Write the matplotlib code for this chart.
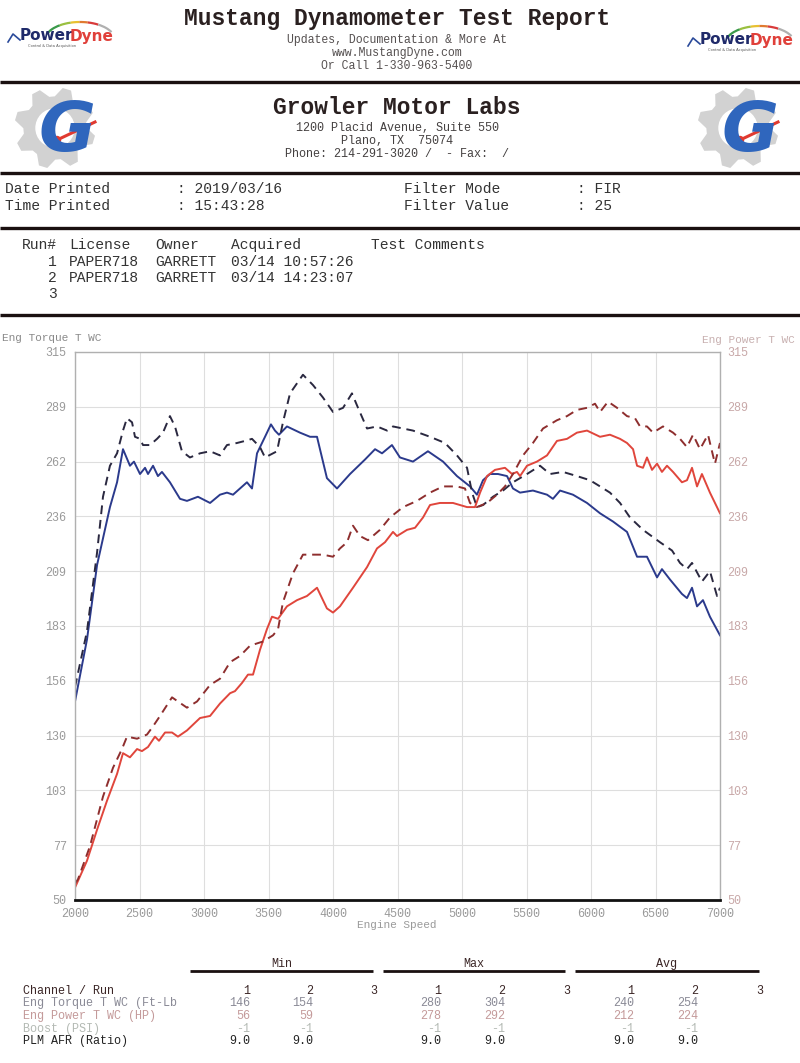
import matplotlib
matplotlib.use("Agg")
import matplotlib.pyplot as plt
import numpy as np
from matplotlib.patches import Polygon, Circle, Arc

MONO = "Liberation Mono"

# ---- dyno data ----
torque1_rpm = [2000, 2093, 2171, 2271, 2326, 2372, 2426, 2457, 2504, 2543, 2566, 2605, 2643, 2674,
               2736, 2814, 2868, 2953, 3047, 3124, 3178, 3225, 3333, 3372, 3411, 3473, 3519, 3550,
               3581, 3643, 3744, 3822, 3876, 3899, 3953, 4031, 4132, 4248, 4326, 4380, 4457, 4519,
               4620, 4736, 4853, 4961, 5062, 5116, 5163, 5217, 5279, 5349, 5395, 5450, 5550, 5659,
               5705, 5760, 5860, 5969, 6070, 6171, 6279, 6357, 6434, 6512, 6550, 6612, 6705, 6744,
               6783, 6822, 6868, 6922, 7000]
torque1 = [146, 176, 212, 240, 252, 268, 260, 262, 256, 259, 256, 260, 255, 257,
           252, 244, 243, 245, 242, 246, 247, 246, 252, 249, 266, 274, 280, 277,
           275, 279, 276, 274, 274, 268, 254, 249, 256, 263, 268, 266, 270, 264,
           262, 267, 262, 255, 250, 246, 253, 256, 256, 255, 249, 247, 248, 246,
           244, 248, 246, 242, 237, 233, 228, 216, 216, 206, 210, 205, 198, 196,
           201, 192, 195, 187, 178]

torque2_rpm = [2000, 2093, 2171, 2217, 2271, 2326, 2372, 2403, 2442, 2465, 2504, 2527, 2581, 2636,
               2682, 2736, 2775, 2829, 2891, 2969, 3047, 3124, 3178, 3256, 3318, 3372, 3434, 3473,
               3566, 3612, 3667, 3767, 3845, 3922, 4000, 4078, 4147, 4194, 4264, 4341, 4419, 4465,
               4620, 4752, 4868, 4961, 5039, 5078, 5116, 5163, 5240, 5318, 5395, 5504, 5605, 5682,
               5783, 5891, 5992, 6070, 6147, 6225, 6302, 6403, 6535, 6628, 6690, 6744, 6783, 6860,
               6922, 6977, 7000]
torque2 = [153, 180, 218, 245, 260, 266, 277, 283, 281, 274, 273, 270, 270, 273,
           276, 284, 279, 267, 264, 266, 267, 265, 270, 271, 272, 273, 269, 264,
           267, 281, 295, 304, 299, 293, 286, 288, 295, 288, 278, 279, 277, 279,
           277, 274, 271, 265, 259, 247, 240, 241, 245, 248, 252, 256, 260, 256,
           257, 255, 253, 250, 247, 242, 235, 229, 223, 219, 213, 210, 213, 204,
           209, 197, 201]

power1_rpm = [2000, 2093, 2171, 2248, 2326, 2372, 2426, 2481, 2519, 2566, 2620, 2651, 2698, 2752,
              2798, 2868, 2969, 3047, 3124, 3202, 3240, 3295, 3341, 3380, 3434, 3488, 3527, 3574,
              3643, 3721, 3798, 3876, 3953, 4000, 4054, 4155, 4264, 4341, 4403, 4465, 4496, 4574,
              4636, 4698, 4752, 4829, 4930, 5039, 5101, 5140, 5194, 5256, 5333, 5388, 5426, 5450,
              5504, 5581, 5659, 5736, 5814, 5891, 5969, 6070, 6147, 6225, 6279, 6326, 6357, 6403,
              6434, 6473, 6512, 6550, 6589, 6636, 6705, 6744, 6783, 6822, 6860, 6922, 7000]
power1 = [56, 69, 84, 98, 111, 121, 119, 123, 122, 124, 129, 127, 131, 131,
          129, 132, 138, 139, 145, 150, 151, 155, 159, 159, 171, 181, 187, 186,
          192, 195, 197, 201, 191, 189, 192, 201, 211, 220, 223, 228, 226, 229,
          230, 235, 241, 242, 242, 240, 240, 247, 255, 258, 259, 256, 257, 255,
          260, 262, 265, 272, 273, 276, 277, 274, 275, 273, 271, 268, 260, 259,
          264, 258, 261, 257, 260, 257, 252, 253, 259, 250, 256, 247, 237]

power2_rpm = [2000, 2023, 2116, 2217, 2295, 2364, 2403, 2481, 2558, 2605, 2659, 2752, 2798, 2868,
              2946, 3047, 3124, 3202, 3279, 3357, 3457, 3535, 3574, 3612, 3690, 3767, 3845, 3922,
              4000, 4054, 4109, 4155, 4209, 4271, 4364, 4442, 4543, 4651, 4752, 4853, 4961, 5023,
              5062, 5116, 5194, 5271, 5333, 5395, 5473, 5550, 5628, 5736, 5814, 5891, 5969, 6031,
              6070, 6132, 6202, 6279, 6341, 6380, 6434, 6481, 6558, 6636, 6690, 6744, 6791, 6845,
              6907, 6961, 7000]
power2 = [58, 60, 76, 100, 114, 123, 129, 128, 130, 134, 139, 148, 146, 143,
          146, 154, 157, 165, 168, 173, 175, 178, 181, 194, 208, 217, 217, 217,
          216, 220, 223, 231, 226, 224, 229, 235, 240, 243, 247, 250, 250, 249,
          242, 240, 242, 246, 250, 256, 265, 271, 278, 282, 284, 287, 288, 290,
          286, 291, 288, 284, 283, 279, 279, 276, 279, 276, 273, 269, 275, 268,
          275, 261, 271]

y_ticks = [50, 76.5, 103, 129.5, 156, 182.5, 209, 235.5, 262, 288.5, 315]
y_labels = ["50", "77", "103", "130", "156", "183", "209", "236", "262", "289", "315"]
x_ticks = [2000, 2500, 3000, 3500, 4000, 4500, 5000, 5500, 6000, 6500, 7000]

# summary table
channels = ["Eng Torque T WC (Ft-Lb", "Eng Power T WC (HP)", "Boost (PSI)", "PLM AFR (Ratio)"]
channel_colors = ["#8a8a96", "#c49a9a", "#b4bab4", "#222222"]
min_vals = [["146", "154"], ["56", "59"], ["-1", "-1"], ["9.0", "9.0"]]
max_vals = [["280", "304"], ["278", "292"], ["-1", "-1"], ["9.0", "9.0"]]
avg_vals = [["240", "254"], ["212", "224"], ["-1", "-1"], ["9.0", "9.0"]]

runs = [("1", "PAPER718", "GARRETT", "03/14 10:57:26"),
        ("2", "PAPER718", "GARRETT", "03/14 14:23:07"),
        ("3", "", "", "")]

fig = plt.figure(figsize=(8, 10.63), dpi=100)
fig.patch.set_facecolor("white")

bg = fig.add_axes([0, 0, 1, 1])
bg.set_xlim(0, 800)
bg.set_ylim(1063, 0)
bg.axis("off")


def txt(x, y, s, size=8.5, color="#2a2020", ha="left", **kw):
    bg.text(x, y, s, fontsize=size, color=color, ha=ha, va="center", family=MONO, **kw)


def powerdyne(x0, y0):
    # rainbow arc over the wordmark (y axis is flipped, so angles run 180..360 for the top half)
    cols = ["#3a9a4a", "#9ac040", "#e8c030", "#e07a30", "#d83a3a", "#b0b0b0"]
    for i, c in enumerate(cols):
        bg.add_patch(Arc((x0 + 62, y0 + 4), 70, 36, theta1=190 + i * 26, theta2=216 + i * 26,
                         color=c, lw=1.6))
    bg.plot([x0 - 10, x0 - 5, x0 + 2], [y0 + 6, y0 - 2, y0 + 4], color="#2a4a9a", lw=1.2)
    bg.text(x0 + 2, y0, "Power", fontsize=11, weight="bold", color="#1f2a6a", va="center",
            family="DejaVu Sans")
    bg.text(x0 + 52, y0, "Dyne", fontsize=11, weight="bold", color="#e0403a", va="center",
            family="DejaVu Sans")
    bg.text(x0 + 10, y0 + 10, "Control & Data Acquisition", fontsize=2.6, color="#555555",
            va="center", family="DejaVu Sans")


def gear_logo(cx, cy):
    ang = np.linspace(0, 2 * np.pi, 8 * 4, endpoint=False)
    rad = np.tile([40, 40, 31, 31], 8)
    pts = np.column_stack([cx + rad * np.cos(ang + 0.2), cy + rad * np.sin(ang + 0.2)])
    bg.add_patch(Polygon(pts, closed=True, color="#d2d2d2"))
    bg.add_patch(Circle((cx, cy), 19, color="white"))
    bg.text(cx + 12, cy + 3, "G", fontsize=50, weight="bold", style="italic", color="#2f66bd",
            ha="center", va="center", family="DejaVu Sans")
    bg.plot([cx + 2, cx + 40], [cy + 12, cy - 6], color="#e03a30", lw=2.2)
    bg.add_patch(Circle((cx + 2, cy + 12), 3.5, color="#e03a30"))


# ---- header ----
powerdyne(18, 36)
powerdyne(698, 40)
txt(397, 18, "Mustang Dynamometer Test Report", size=16.5, ha="center", weight="bold")
txt(397, 40, "Updates, Documentation & More At", size=8.3, ha="center", color="#555050")
txt(397, 53, "www.MustangDyne.com", size=8.3, ha="center", color="#555050")
txt(397, 66, "Or Call 1-330-963-5400", size=8.3, ha="center", color="#555050")

for yy in [82, 173, 228, 315]:
    bg.plot([0, 800], [yy, yy], color="#1a1010", lw=2.4, solid_capstyle="butt")

gear_logo(55, 128)
gear_logo(738, 128)
txt(397, 108, "Growler Motor Labs", size=16.5, ha="center", weight="bold")
txt(397, 128, "1200 Placid Avenue, Suite 550", size=8.5, ha="center", color="#444040")
txt(397, 141, "Plano, TX  75074", size=8.5, ha="center", color="#444040")
txt(397, 154, "Phone: 214-291-3020 /  - Fax:  /", size=8.5, ha="center", color="#444040")

txt(5, 189, "Date Printed", size=10.5, color="#333")
txt(177, 189, ": 2019/03/16", size=10.5, color="#333")
txt(404, 189, "Filter Mode", size=10.5, color="#333")
txt(577, 189, ": FIR", size=10.5, color="#333")
txt(5, 206, "Time Printed", size=10.5, color="#333")
txt(177, 206, ": 15:43:28", size=10.5, color="#333")
txt(404, 206, "Filter Value", size=10.5, color="#333")
txt(577, 206, ": 25", size=10.5, color="#333")

txt(22, 245, "Run#", size=10.5, color="#333")
txt(69, 245, "License", size=10.5, color="#333")
txt(155, 245, "Owner", size=10.5, color="#333")
txt(231, 245, "Acquired", size=10.5, color="#333")
txt(371, 245, "Test Comments", size=10.5, color="#333")
for i, (num, lic, own, acq) in enumerate(runs):
    yy = 262 + i * 16
    txt(57, yy, num, size=10.5, color="#333", ha="right")
    txt(69, yy, lic, size=10.5, color="#333")
    txt(155, yy, own, size=10.5, color="#333")
    txt(231, yy, acq, size=10.5, color="#333")

txt(2, 338, "Eng Torque T WC", size=8, color="#8a8a8a")
txt(795, 340, "Eng Power T WC", size=8, color="#c8b0b0", ha="right")

# ---- chart ----
ax = fig.add_axes([75 / 800, (1063 - 900) / 1063, 645 / 800, 548 / 1063])
ax.plot(torque1_rpm, torque1, color="#2b3a8c", lw=1.4)
ax.plot(torque2_rpm, torque2, color="#2a2840", lw=1.4, dashes=(4.5, 3))
ax.plot(power1_rpm, power1, color="#e0463c", lw=1.4)
ax.plot(power2_rpm, power2, color="#8e2e2e", lw=1.4, dashes=(4.5, 3))
ax.set_xlim(2000, 7000)
ax.set_ylim(50, 315)
ax.set_xticks(x_ticks)
ax.set_yticks(y_ticks)
ax.set_yticklabels(y_labels)
ax.grid(True, color="#dedede", lw=0.8)
ax.set_axisbelow(True)
ax.tick_params(length=0, labelsize=8.5, pad=6)
for lab in ax.get_xticklabels() + ax.get_yticklabels():
    lab.set_family(MONO)
    lab.set_color("#9a9a9a")
for side in ["top", "left", "right"]:
    ax.spines[side].set_color("#b0b0b0")
    ax.spines[side].set_linewidth(1)
ax.spines["bottom"].set_color("#111111")
ax.spines["bottom"].set_linewidth(2)

ax2 = ax.twinx()
ax2.set_ylim(50, 315)
ax2.set_yticks(y_ticks)
ax2.set_yticklabels(y_labels)
ax2.tick_params(length=0, labelsize=8.5, pad=5)
for lab in ax2.get_yticklabels():
    lab.set_family(MONO)
    lab.set_color("#c8a8a8")
for s in ax2.spines.values():
    s.set_visible(False)

txt(397, 925, "Engine Speed", size=8, ha="center", color="#9a9a9a")

# ---- summary table ----
groups = [("Min", 190, 373, [250, 313, 377], min_vals),
          ("Max", 383, 565, [441, 505, 570], max_vals),
          ("Avg", 575, 759, [634, 698, 763], avg_vals)]
row_y = [1003, 1016, 1029, 1041]
txt(23, 991, "Channel / Run", size=8.5, color="#3a2525")
for name, x0, x1, cols, vals in groups:
    txt((x0 + x1) / 2, 964, name, size=8.5, ha="center", color="#3a2525")
    bg.plot([x0, x1], [971, 971], color="#1a1010", lw=2, solid_capstyle="butt")
    for k, cx in enumerate(cols):
        txt(cx, 991, str(k + 1), size=8.5, ha="right", color="#3a2525")
    for r, yy in enumerate(row_y):
        for k in range(2):
            txt(cols[k], yy, vals[r][k], size=8.5, ha="right", color=channel_colors[r])
for r, yy in enumerate(row_y):
    txt(23, yy, channels[r], size=8.5, color=channel_colors[r])

fig.savefig("out.png", dpi=100, facecolor="white")
